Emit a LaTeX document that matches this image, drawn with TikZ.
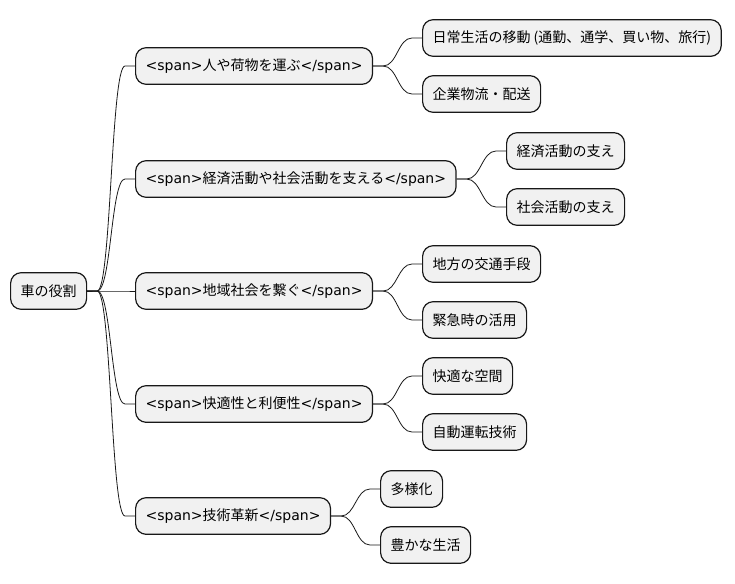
\documentclass[tikz,border=0pt]{standalone}
\usepackage{fontspec}
\setmainfont{DejaVu Sans}
\newfontfamily\jp{Noto Sans CJK JP}
\usetikzlibrary{calc}
\definecolor{boxfill}{RGB}{241, 241, 241}
\definecolor{boxline}{RGB}{24, 24, 24}

\begin{document}
\begin{tikzpicture}[x=0.75pt, y=-0.75pt, font=\fontsize{10.5}{12}\selectfont,
        n/.style={rectangle, rounded corners=8pt, draw=boxline, fill=boxfill, line width=0.9pt,
                  anchor=west, minimum height=27.5pt, inner xsep=7.5pt, inner ysep=0pt},
        link/.style={draw=boxline, line width=0.6pt}]
        \useasboundingbox (0,0) rectangle (735,583);
        \node[n] (root) at (10,291) {\jp 車の役割};
        \node[n] (a) at (135,66)  {<span>{\jp 人や荷物を運ぶ}</span>};
        \node[n] (b) at (135,179) {<span>{\jp 経済活動や社会活動を支える}</span>};
        \node[n] (c) at (135,291) {<span>{\jp 地域社会を繋ぐ}</span>};
        \node[n] (d) at (135,404) {<span>{\jp 快適性と利便性}</span>};
        \node[n] (e) at (135,516) {<span>{\jp 技術革新}</span>};
        \node[n] (a1) at (422,38)  {\jp 日常生活の移動 (通勤、通学、買い物、旅行)};
        \node[n] (a2) at (422,94)  {\jp 企業物流・配送};
        \node[n] (b1) at (506,151) {\jp 経済活動の支え};
        \node[n] (b2) at (506,207) {\jp 社会活動の支え};
        \node[n] (c1) at (422,264) {\jp 地方の交通手段};
        \node[n] (c2) at (422,320) {\jp 緊急時の活用};
        \node[n] (d1) at (422,376) {\jp 快適な空間};
        \node[n] (d2) at (422,432) {\jp 自動運転技術};
        \node[n] (e1) at (380,489) {\jp 多様化};
        \node[n] (e2) at (380,545) {\jp 豊かな生活};
        \foreach \p/\c in {root/a, root/b, root/c, root/d, root/e, a/a1, a/a2, b/b1, b/b2,
                           c/c1, c/c2, d/d1, d/d2, e/e1, e/e2}
            \draw[link] (\p.east) -- ++(10,0)
                .. controls ($(\p.east)+(24,0)$) and ($(\c.west)+(-24,0)$) .. ($(\c.west)+(-10,0)$)
                -- (\c.west);
    \end{tikzpicture}
\end{document}
